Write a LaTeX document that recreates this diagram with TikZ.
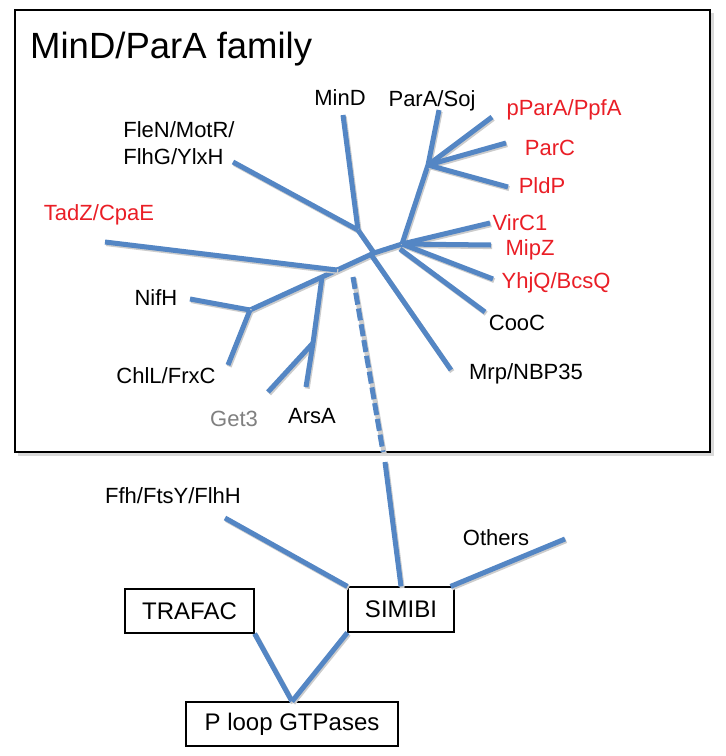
\documentclass[tikz,border=0pt]{standalone}
\usepackage{fontspec}
\setmainfont{Liberation Sans}
\definecolor{lineblue}{RGB}{84,134,196}
\definecolor{lred}{RGB}{234,30,38}
\definecolor{lgray}{RGB}{128,128,128}
\begin{document}
\begin{tikzpicture}[x=1pt,y=-1pt,
  branch/.style={draw=lineblue,line width=5pt,line join=round,
    preaction={draw=black!20,line width=5pt,transform canvas={shift={(1.2pt,-1.6pt)}}}},
  dbranch/.style={branch,dash pattern=on 12pt off 4pt},
  lab/.style={font=\fontsize{22}{27}\selectfont,inner sep=0pt,anchor=base},
  redlab/.style={lab,text=lred},
  gbox/.style={draw=black,line width=1.2pt,fill=white,font=\fontsize{24}{28}\selectfont,inner sep=0pt}
]
\useasboundingbox (0,0) rectangle (726,756);
% family box with shadow
\fill[black!15] (18,13) rectangle (714,456);
\draw[line width=1.6pt,fill=white] (15,10) rectangle (710,452);
\node[font=\fontsize{36.5}{40}\selectfont,inner sep=0pt,anchor=base west] (title) at (30,58) {MinD/ParA family};

% junctions
\coordinate (j1) at (358,230);
\coordinate (jc) at (374,253);
\coordinate (jr) at (402,244);
\coordinate (jp) at (428,165);
\coordinate (jt) at (337,270);
\coordinate (ja) at (322,277);
\coordinate (jn) at (250,310);
\coordinate (jg) at (313,343);
\coordinate (jcoo) at (400,249);
\coordinate (jmrp) at (372,256);
% leaf ends
\coordinate (eMinD) at (343,115);
\coordinate (eFleN) at (233,162);
\coordinate (eTadZ) at (105,242);
\coordinate (eNifH) at (190,299);
\coordinate (eChlL) at (228,365);
\coordinate (eGet3) at (268,392);
\coordinate (eArsA) at (306,387);
\coordinate (eParA) at (439,110);
\coordinate (epParA) at (492,117);
\coordinate (eParC) at (506,143);
\coordinate (ePldP) at (508,187);
\coordinate (eVirC) at (490,223);
\coordinate (eMipZ) at (491,245);
\coordinate (eYhjQ) at (493,279);
\coordinate (eCooC) at (485,312);
\coordinate (eMrp) at (451,370);
\coordinate (dstart) at (353,277);
\coordinate (dend) at (383,452);
\coordinate (sstart) at (385,462);
\coordinate (eFfh) at (225,518);
\coordinate (eOthers) at (565,539);

% tree
\draw[branch] (eMinD) -- (j1);
\draw[branch] (eFleN) -- (j1);
\draw[branch] (j1) -- (jc);
\draw[branch] (jn) -- (ja) -- (jc) -- (jr);
\draw[branch] (eTadZ) -- (jt);
\draw[branch] (eNifH) -- (jn);
\draw[branch] (eChlL) -- (jn);
\draw[branch] (ja) -- (jg);
\draw[branch] (jg) -- (eGet3);
\draw[branch] (jg) -- (eArsA);
\draw[branch] (jr) -- (jp) -- (eParA);
\draw[branch] (jp) -- (epParA);
\draw[branch] (jp) -- (eParC);
\draw[branch] (jp) -- (ePldP);
\draw[branch] (jr) -- (eVirC);
\draw[branch] (jr) -- (eMipZ);
\draw[branch] (jr) -- (eYhjQ);
\draw[branch] (jcoo) -- (eCooC);
\draw[branch] (jmrp) -- (eMrp);
\draw[dbranch] (dstart) -- (dend);

% labels
\node[lab] (MinD) at (340,105) {MinD};
\node[lab] (ParA) at (432,106) {ParA/Soj};
\node[redlab] (pParA) at (564,115) {pParA/PpfA};
\node[redlab] (ParC) at (550,155) {ParC};
\node[redlab] (PldP) at (542,193) {PldP};
\node[redlab] (VirC) at (520,230) {VirC1};
\node[redlab] (MipZ) at (530,255) {MipZ};
\node[redlab] (YhjQ) at (556,288) {YhjQ/BcsQ};
\node[lab] (CooC) at (517,330) {CooC};
\node[lab] (Mrp) at (526,379) {Mrp/NBP35};
\node[lab,align=left,anchor=center] (FleN) at (179,143) {FleN/MotR/\\FlhG/YlxH};
\node[redlab] (TadZ) at (99,220) {TadZ/CpaE};
\node[lab] (NifH) at (156,305) {NifH};
\node[lab] (ChlL) at (166,383) {ChlL/FrxC};
\node[lab,text=lgray] (Get3) at (234,426) {Get3};
\node[lab] (ArsA) at (312,423) {ArsA};

% lower part
\node[lab] (Ffh) at (173,503) {Ffh/FtsY/FlhH};
\node[lab] (Others) at (496,545) {Others};
\node[gbox,minimum width=129pt,minimum height=44pt] (trafac) at (189.5,611) {TRAFAC};
\node[gbox,minimum width=106pt,minimum height=45pt] (simibi) at (401,609.5) {SIMIBI};
\node[gbox,minimum width=212pt,minimum height=44pt] (ploop) at (292,724) {P loop GTPases};

\draw[branch] (sstart) -- (simibi.north);
\draw[branch] (eFfh) -- (simibi.north west);
\draw[branch] ([xshift=-4pt]simibi.north east) -- (eOthers);
\draw[branch] (trafac.south east) -- (ploop.north);
\draw[branch] (simibi.south west) -- (ploop.north);
\end{tikzpicture}
\end{document}
